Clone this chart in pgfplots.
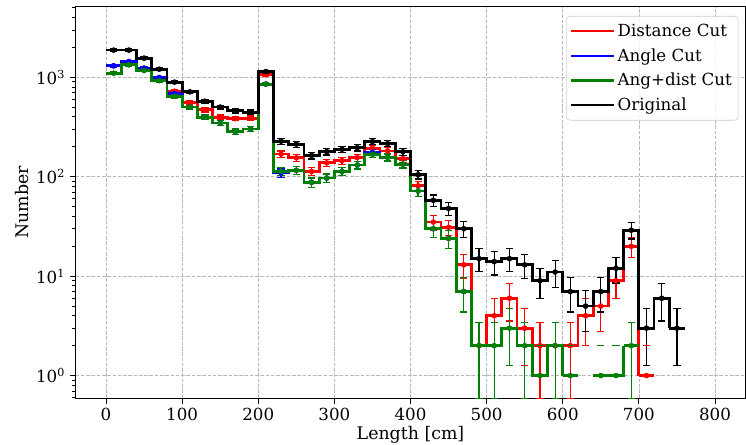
\documentclass[border=0pt]{standalone}
\usepackage{fontspec}
\setmainfont{DejaVu Serif}
\usepackage{pgfplots}
\usepackage{pgfplotstable}
\pgfplotsset{compat=1.18}

\definecolor{mred}{rgb}{1,0,0}
\definecolor{mblue}{rgb}{0,0,1}
\definecolor{mgreen}{rgb}{0,0.5,0}
\definecolor{gridc}{rgb}{0.72,0.72,0.72}

% bin centre c, count n
\pgfplotstableread{
c n
10 1880
30 1880
50 1560
70 1208
90 895
110 715
130 575
150 502
170 460
190 447
210 1143
230 228
250 213
270 164
290 179
310 189
330 196
350 226
370 215
390 178
410 105
430 58
450 48
470 30
490 15
510 14
530 15
550 13
570 9
590 11
610 7
630 5
650 7
670 12
690 29
710 3
730 6
750 3
}\orig

\pgfplotstableread{
c n
10 1306
30 1442
50 1237
70 995
90 725
110 555
130 471
150 398
170 385
190 389
210 1060
230 169
250 155
270 113
290 138
310 145
330 156
350 194
370 182
390 152
410 81
430 35
450 31
470 13
490 2
510 4
530 6
550 3
570 2
590 2
610 2
630 4
650 5
670 9
690 20
710 1
}\dist

\pgfplotstableread{
c n
10 1306
30 1442
50 1237
70 995
90 685
110 502
130 398
150 347
170 285
190 303
210 855
230 109
250 116
270 88
290 97
310 113
330 131
350 176
370 157
390 134
410 72
430 30
450 24
470 7
}\angl

\pgfplotstableread{
c n
10 1101
30 1335
50 1170
70 925
90 645
110 502
130 398
150 347
170 285
190 303
210 855
230 113
250 116
270 88
290 97
310 113
330 131
350 168
370 157
390 134
410 72
430 30
450 24
470 7
490 2
510 2
530 3
550 2
570 1
590 2
610 1
650 1
670 1
690 2
}\both

\pgfplotsset{
  stair/.style={#1, line width=2pt, const plot mark left, forget plot},
  errs/.style={#1, only marks, mark=*, mark size=1.8pt, forget plot,
    error bars/.cd, y dir=both, y explicit,
    error bar style={#1, line width=0.9pt},
    error mark options={#1, line width=0.9pt, mark size=2.6pt, rotate=90}},
  ones/.style={#1, only marks, mark=*, mark size=1.8pt, forget plot},
  caps/.style={#1, only marks, mark=-, mark size=2.6pt, forget plot, mark options={line width=0.9pt}},
}

\begin{document}
\begin{tikzpicture}
\begin{axis}[
  at={(0,0)}, anchor=south west,
  width=482.3pt, height=281.9pt, scale only axis,
  ymode=log,
  xmin=-40, xmax=840, ymin=0.594, ymax=5157,
  xtick={0,100,...,800},
  ytick={1,10,100,1000},
  yticklabels={10\textsuperscript{0},10\textsuperscript{1},10\textsuperscript{2},10\textsuperscript{3}},
  minor ytick={0.6,0.7,0.8,0.9,2,3,4,5,6,7,8,9,20,30,40,50,60,70,80,90,200,300,400,500,600,700,800,900,2000,3000,4000,5000},
  xtick pos=bottom, ytick pos=left,
  tick align=outside,
  major tick length=4pt, minor tick length=2.3pt,
  every tick/.style={black, line width=0.6pt},
  axis line style={line width=0.6pt},
  grid=major,
  grid style={gridc, line width=0.5pt, dash pattern=on 2.6pt off 1.2pt},
  /pgf/number format/assume math mode=true,
  tick label style={font=\fontsize{12}{14}\selectfont},
  label style={font=\fontsize{12.5}{14}\selectfont},
  xlabel={Length [cm]}, ylabel={Number},
  xlabel style={at={(axis description cs:0.5,-0.0945)}, anchor=center},
  ylabel style={at={(axis description cs:-0.0804,0.5)}, anchor=center},
  legend style={at={(1,1)}, anchor=north east, xshift=-5.1pt, yshift=-6.8pt,
    draw=black!20, rounded corners=2.5pt, fill=white, fill opacity=0.8, text opacity=1,
    font=\fontsize{12}{14}\selectfont, row sep=3.2pt, inner xsep=2.5pt, inner ysep=3.5pt,
    cells={anchor=west}},
  legend image code/.code={\draw[#1] (0pt,0pt) -- (25pt,0pt); \path (0pt,0pt) -- (31pt,0pt);},
]
% Distance Cut
\addplot[stair=mred] table[x expr=\thisrow{c}-10, y=n]{\dist};
\addplot[stair=mred] coordinates {(700,1) (720,1)};
\addplot[errs=mred] table[x=c, y expr={\thisrow{n}>1.5 ? \thisrow{n} : nan}, y error expr={sqrt(\thisrow{n})}]{\dist};
\addplot[ones=mred] table[x=c, y expr={\thisrow{n}<1.5 ? 1 : nan}]{\dist};
\addplot[caps=mred] table[x=c, y expr={\thisrow{n}<1.5 ? 2 : nan}]{\dist};
% Angle Cut
\addplot[stair=mblue] table[x expr=\thisrow{c}-10, y=n]{\angl};
\addplot[stair=mblue] coordinates {(460,7) (480,7)};
\addplot[errs=mblue] table[x=c, y=n, y error expr={sqrt(\thisrow{n})}]{\angl};
% Ang+dist Cut
\addplot[stair=mgreen, skip coords between index={31}{40}] table[x expr=\thisrow{c}-10, y=n]{\both};
\addplot[stair=mgreen] coordinates {(600,1) (620,1)};
\addplot[stair=mgreen, skip coords between index={0}{31}] table[x expr=\thisrow{c}-10, y=n]{\both};
\addplot[stair=mgreen] coordinates {(680,2) (700,2)};
\addplot[errs=mgreen] table[x=c, y expr={\thisrow{n}>1.5 ? \thisrow{n} : nan}, y error expr={sqrt(\thisrow{n})}]{\both};
\addplot[ones=mgreen] table[x=c, y expr={\thisrow{n}<1.5 ? 1 : nan}]{\both};
\addplot[caps=mgreen] table[x=c, y expr={\thisrow{n}<1.5 ? 2 : nan}]{\both};
% Original
\addplot[stair=black] table[x expr=\thisrow{c}-10, y=n]{\orig};
\addplot[stair=black] coordinates {(740,3) (760,3)};
\addplot[errs=black] table[x=c, y=n, y error expr={sqrt(\thisrow{n})}]{\orig};

\addlegendimage{mred, line width=1.5pt}\addlegendentry{Distance Cut}
\addlegendimage{mblue, line width=1.5pt}\addlegendentry{Angle Cut}
\addlegendimage{mgreen, line width=1.5pt}\addlegendentry{Ang+dist Cut}
\addlegendimage{black, line width=1.5pt}\addlegendentry{Original}
\end{axis}
\pgfresetboundingbox
\useasboundingbox (-54.4pt,-33.1pt) rectangle (482.7pt,286.6pt);
\end{tikzpicture}
\end{document}
